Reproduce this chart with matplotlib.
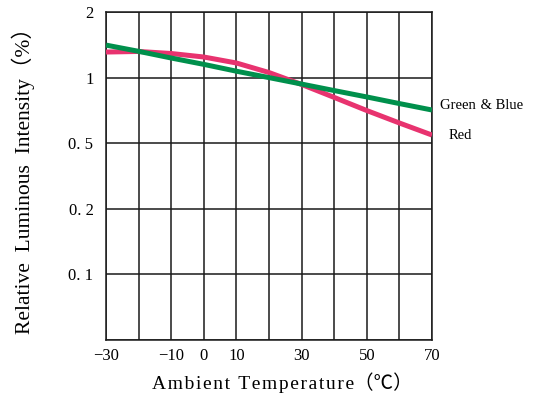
import matplotlib
matplotlib.use("Agg")
import matplotlib.pyplot as plt
import numpy as np

# data
temps = [-30, -20, -10, 0, 10, 20, 30, 40, 50, 60, 70]
green_blue = [1.41, 1.32, 1.23, 1.15, 1.07, 1.00, 0.934, 0.872, 0.815, 0.760, 0.710]
red = [1.31, 1.318, 1.29, 1.243, 1.167, 1.055, 0.93, 0.811, 0.706, 0.619, 0.545]

# y grid levels, drawn evenly spaced like the datasheet
y_levels = [0.05, 0.1, 0.2, 0.5, 1, 2]
y_labels = ["", "0. 1", "0. 2", "0. 5", "1", "2"]
x_ticks = [-30, -10, 0, 10, 30, 50, 70]
x_grid = list(range(-30, 71, 10))

lv = np.log10(y_levels)
pos = np.arange(len(y_levels), dtype=float)


def fwd(v):
    v = np.clip(np.asarray(v, dtype=float), 1e-6, None)
    return np.interp(np.log10(v), lv, pos, left=-1, right=len(pos))


def inv(p):
    return 10 ** np.interp(p, pos, lv)


def spaced(s):
    # loose letter tracking like the datasheet lettering
    return "\u200a".join(s)


fams = ["Liberation Serif", "Noto Sans CJK SC", "DejaVu Sans"]
plt.rcParams["font.family"] = fams

fig = plt.figure(figsize=(5.39, 3.98), dpi=100)
ax = fig.add_axes([106 / 539, 58 / 398, 326 / 539, 328 / 398])
ax.set_yscale("function", functions=(fwd, inv))
ax.set_xlim(-30, 70)
ax.set_ylim(0.05, 2)

for x in x_grid:
    ax.axvline(x, color="#1a1a1a", lw=1.1, zorder=1)
for y in y_levels:
    ax.axhline(y, color="#1a1a1a", lw=1.1, zorder=1)

ax.plot(temps, red, color="#e8336f", lw=3.6, solid_capstyle="butt", zorder=3)
ax.plot(temps, green_blue, color="#00904c", lw=3.6, solid_capstyle="butt", zorder=4)

ax.set_xticks(x_ticks)
ax.set_xticklabels(["\u221230", "\u221210", "0", "10", "30", "50", "70"], fontsize=12)
ax.set_yticks(y_levels)
ax.set_yticklabels(y_labels, fontsize=12)
ax.yaxis.set_minor_locator(matplotlib.ticker.NullLocator())
ax.tick_params(length=0)
ax.tick_params(axis="y", pad=9)
ax.tick_params(axis="x", pad=6)
for s in ax.spines.values():
    s.set_color("#1a1a1a")
    s.set_linewidth(1.1)

ax.set_xlabel(spaced("Ambient Temperature") + "（℃）", fontsize=14, labelpad=6)
ax.xaxis.label.set_x(0.54)
ax.set_ylabel("Relative  Luminous  Intensity（%）", fontsize=15.5, labelpad=24)

ax.text(1.025, green_blue[-1] * 1.05, "Green \u200a& Blue", transform=ax.get_yaxis_transform(),
        fontsize=10.5, va="center", ha="left")
ax.text(1.05, red[-1], "Red", transform=ax.get_yaxis_transform(),
        fontsize=10.5, va="center", ha="left")

fig.savefig("out.png", dpi=100)
